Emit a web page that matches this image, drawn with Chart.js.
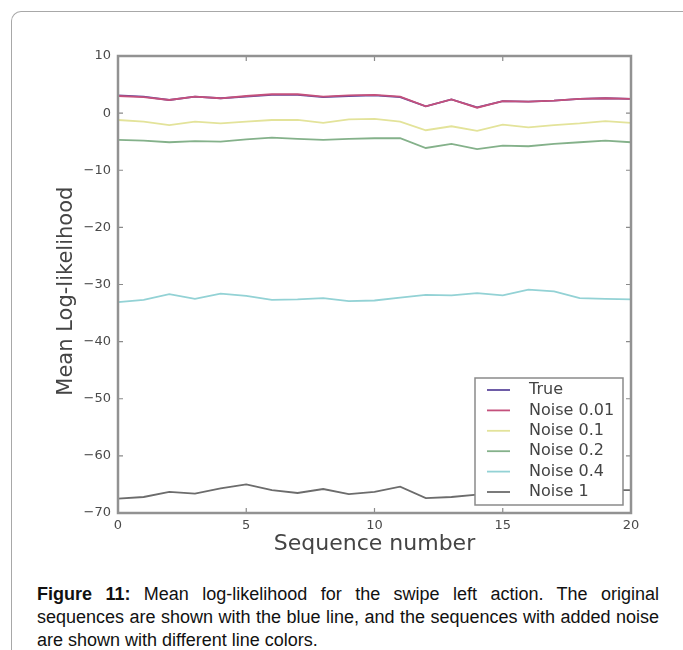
<!DOCTYPE html>
<html>
<head>
<meta charset="utf-8">
<script src="https://cdn.jsdelivr.net/npm/chart.js@4/dist/chart.umd.min.js"></script>
<style>
  body { margin: 0; background: #fff; width: 683px; height: 650px; overflow: hidden; position: relative; }
  #frame { position: absolute; left: 11px; top: 11px; width: 700px; height: 700px;
           border-left: 1.5px solid #a8a8a8; border-top: 1.5px solid #a8a8a8; border-top-left-radius: 10px; }
  #grafico { position: absolute; left: 0; top: 0; }
  #legenda_fig { position: absolute; left: 37px; top: 583px; width: 622px;
                 font-family: "Liberation Sans", Arial, sans-serif; font-size: 18px; line-height: 23px;
                 color: #111; }
  #legenda_fig .linha { text-align: justify; text-align-last: justify; white-space: nowrap; }
  #legenda_fig .ultima { text-align: left; white-space: nowrap; }
</style>
</head>
<body>
<div id="frame"></div>
<canvas id="grafico" width="683" height="580"></canvas>
<div id="legenda_fig">
  <div class="linha"><b>Figure 11:</b> Mean log-likelihood for the swipe left action. The original</div>
  <div class="linha">sequences are shown with the blue line, and the sequences with added noise</div>
  <div class="ultima">are shown with different line colors.</div>
</div>

<script>
// sequence number on x axis
const sequencias = [0, 1, 2, 3, 4, 5, 6, 7, 8, 9, 10, 11, 12, 13, 14, 15, 16, 17, 18, 19, 20];

// mean log-likelihood per series
const serieTrue = [3.1, 2.9, 2.3, 2.9, 2.6, 2.9, 3.2, 3.2, 2.8, 3.0, 3.1, 2.8, 1.2, 2.4, 1.0, 2.1, 2.0, 2.2, 2.5, 2.6, 2.5];
const serieNoise001 = [3.0, 2.8, 2.3, 2.9, 2.6, 3.0, 3.3, 3.3, 2.9, 3.1, 3.2, 2.9, 1.2, 2.4, 0.95, 2.1, 2.0, 2.2, 2.5, 2.6, 2.5];
const serieNoise01 = [-1.2, -1.5, -2.1, -1.5, -1.8, -1.5, -1.2, -1.2, -1.7, -1.1, -1.0, -1.5, -3.0, -2.3, -3.1, -2.0, -2.5, -2.1, -1.8, -1.4, -1.7];
const serieNoise02 = [-4.7, -4.8, -5.1, -4.9, -5.0, -4.6, -4.3, -4.5, -4.7, -4.5, -4.4, -4.4, -6.1, -5.4, -6.3, -5.7, -5.8, -5.4, -5.1, -4.8, -5.1];
const serieNoise04 = [-33.1, -32.7, -31.7, -32.5, -31.6, -32.0, -32.7, -32.6, -32.4, -32.9, -32.8, -32.3, -31.8, -31.9, -31.5, -31.9, -30.9, -31.2, -32.4, -32.5, -32.6];
const serieNoise1 = [-67.5, -67.2, -66.3, -66.6, -65.7, -65.0, -66.0, -66.5, -65.8, -66.7, -66.3, -65.4, -67.4, -67.2, -66.8, -66.5, -66.3, -66.2, -66.0, -66.0, -66.0];

const nomesSeries = ['True', 'Noise 0.01', 'Noise 0.1', 'Noise 0.2', 'Noise 0.4', 'Noise 1'];
const coresSeries = ['#5e4a9e', '#c4507c', '#e3e39a', '#84b18a', '#93d2d5', '#6c6c6c'];

const ticksY = [10, 0, -10, -20, -30, -40, -50, -60, -70];
const ticksX = [0, 5, 10, 15, 20];

function pontos(valores) {
  return valores.map(function (v, i) { return { x: sequencias[i], y: v }; });
}

// matplotlib-like frame, inward ticks and legend box inside the plot
const molduraPlugin = {
  id: 'moldura',
  afterDatasetsDraw(chart) {
    const ctx = chart.ctx;
    const a = chart.chartArea;
    const sx = chart.scales.x;
    const sy = chart.scales.y;
    ctx.save();

    ctx.strokeStyle = '#8a8a8a';
    ctx.lineWidth = 1.2;
    ctx.beginPath();
    ticksX.forEach(function (t) {
      const px = sx.getPixelForValue(t);
      ctx.moveTo(px, a.bottom); ctx.lineTo(px, a.bottom - 5);
      ctx.moveTo(px, a.top); ctx.lineTo(px, a.top + 5);
    });
    ticksY.forEach(function (t) {
      const py = sy.getPixelForValue(t);
      ctx.moveTo(a.left, py); ctx.lineTo(a.left + 5, py);
      ctx.moveTo(a.right, py); ctx.lineTo(a.right - 5, py);
    });
    ctx.stroke();

    ctx.lineWidth = 2.5;
    ctx.strokeStyle = '#929292';
    ctx.strokeRect(a.left, a.top, a.right - a.left, a.bottom - a.top);

    // legend
    const w = 148, h = 127;
    const lx = a.right - 8 - w;
    const ly = a.bottom - 8 - h;
    ctx.fillStyle = '#fff';
    ctx.fillRect(lx, ly, w, h);
    ctx.lineWidth = 1.5;
    ctx.strokeStyle = '#8a8a8a';
    ctx.strokeRect(lx, ly, w, h);
    ctx.font = '16px "DejaVu Sans"';
    ctx.textBaseline = 'middle';
    ctx.textAlign = 'left';
    chart.data.datasets.forEach(function (ds, i) {
      const yy = ly + 12 + i * 20.4;
      ctx.strokeStyle = ds.borderColor;
      ctx.lineWidth = 1.8;
      ctx.beginPath();
      ctx.moveTo(lx + 12, yy);
      ctx.lineTo(lx + 35, yy);
      ctx.stroke();
      ctx.fillStyle = '#444';
      ctx.fillText(ds.label, lx + 54, yy);
    });
    ctx.restore();
  }
};

const todasSeries = [serieTrue, serieNoise001, serieNoise01, serieNoise02, serieNoise04, serieNoise1];

new Chart(document.getElementById('grafico'), {
  type: 'line',
  data: {
    datasets: todasSeries.map(function (serie, i) {
      return {
        label: nomesSeries[i],
        data: pontos(serie),
        borderColor: coresSeries[i],
        borderWidth: 1.8,
        pointRadius: 0,
        tension: 0,
        fill: false,
        order: i === 0 ? 1 : 0
      };
    })
  },
  options: {
    responsive: false,
    animation: false,
    devicePixelRatio: 1,
    layout: { padding: { left: 0, right: 52, top: 56, bottom: 7 } },
    plugins: {
      legend: { display: false },
      tooltip: { enabled: false }
    },
    scales: {
      x: {
        type: 'linear',
        min: 0,
        max: 20,
        afterFit: function (s) { s.height = 60; },
        afterBuildTicks: function (s) { s.ticks = ticksX.map(function (v) { return { value: v }; }); },
        grid: { display: false, drawTicks: false },
        border: { display: false },
        ticks: { color: '#4a4a4a', padding: 5, font: { family: 'DejaVu Sans', size: 13 } },
        title: { display: true, text: 'Sequence number', color: '#444',
                 font: { family: 'DejaVu Sans', size: 22 }, padding: { bottom: 16 } }
      },
      y: {
        min: -70,
        max: 10,
        afterFit: function (s) { s.width = 118; },
        afterBuildTicks: function (s) { s.ticks = ticksY.map(function (v) { return { value: v }; }); },
        grid: { display: false, drawTicks: false },
        border: { display: false },
        ticks: {
          color: '#4a4a4a', padding: 7, font: { family: 'DejaVu Sans', size: 13 },
          callback: function (v) { return String(v).replace('-', '\u2212'); }
        },
        title: { display: true, text: 'Mean Log-likelihood\u00a0\u00a0', color: '#444',
                 font: { family: 'DejaVu Sans', size: 21 }, padding: { top: 54 } }
      }
    }
  },
  plugins: [molduraPlugin]
});
</script>
</body>
</html>
